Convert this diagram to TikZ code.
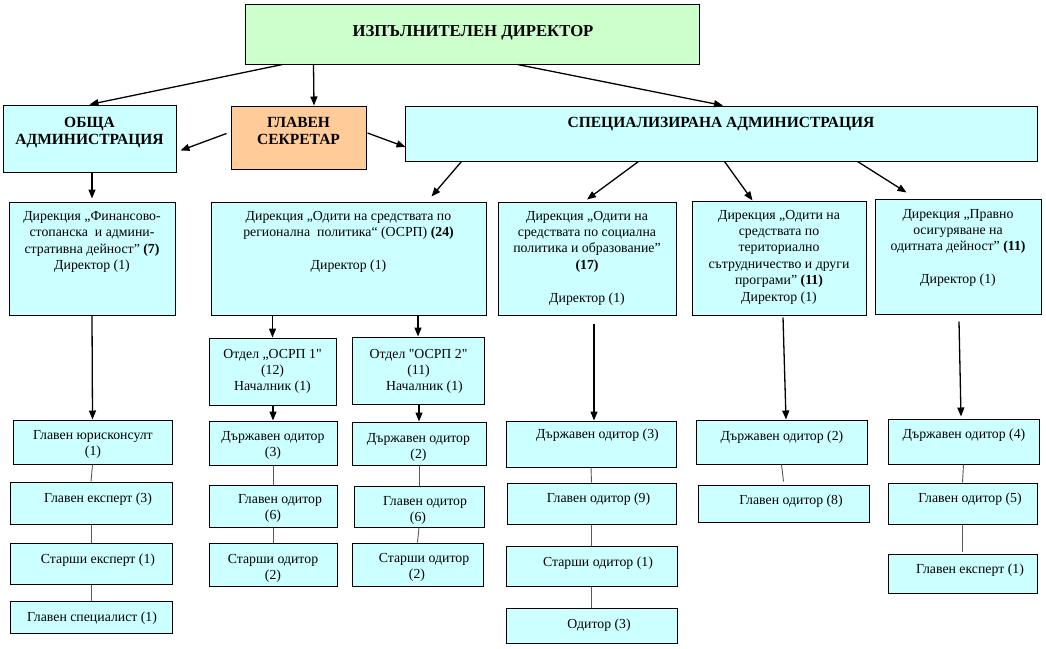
\documentclass[tikz,border=0pt]{standalone}
\usepackage{fontspec}
\setmainfont{Liberation Serif}[Ligatures=TeXOff]
\usetikzlibrary{arrows.meta,fit,calc}
\definecolor{cbox}{HTML}{CCFFFF}
\definecolor{gbox}{HTML}{CCFFCC}
\definecolor{obox}{HTML}{FFCC99}
\tikzset{
  box/.style={draw=black, line width=1pt, fill=cbox, inner sep=0pt},
  gbx/.style={box, fill=gbox},
  obx/.style={box, fill=obox},
  txt/.style={font=\fontsize{13.8}{16.4}\selectfont, inner sep=0pt},
  ttl/.style={font=\bfseries\fontsize{15.5}{17.5}\selectfont, inner sep=0pt},
  arr/.style={-{Triangle[length=9pt,width=7pt]}, line width=1.3pt},
  lnk/.style={draw=black!65, line width=0.9pt},
}
\newcommand{\bx}[9]{\node[#2, fit={(#3,#4) (#5,#6)}] (#1) {};
  \node[txt, anchor=base] (#1-t) at (#7,#8) {\begin{tabular}[t]{@{}c@{}}#9\end{tabular}};}
\newcommand{\tbx}[9]{\node[#2, fit={(#3,#4) (#5,#6)}] (#1) {};
  \node[ttl, anchor=base] (#1-t) at (#7,#8) {\begin{tabular}[t]{@{}c@{}}#9\end{tabular}};}
\begin{document}
\begin{tikzpicture}[x=1pt,y=-1pt]
\useasboundingbox[fill=white] (0,0) rectangle (1046,648);

% top level
\node[gbx, fit={(245,4) (699,64)}] (exec) {};
\node[ttl, font=\bfseries\fontsize{16.7}{18}\selectfont, anchor=base] (exec-t) at (473,36) {ИЗПЪЛНИТЕЛЕН ДИРЕКТОР};
\tbx{obsta}{box}{3}{105}{176}{172}{89.5}{127}{ОБЩА\\АДМИНИСТРАЦИЯ}
\tbx{sekr}{obx}{231}{106}{366}{169}{298.5}{127}{ГЛАВЕН\\СЕКРЕТАР}
\tbx{spec}{box}{405}{106}{1037}{161}{721}{127}{СПЕЦИАЛИЗИРАНА АДМИНИСТРАЦИЯ}

% directorates
\bx{fin}{box}{9}{202}{175}{315}{92}{220.5}{Дирекция „Финансово-\\стопанска\ \ и админи-\\стративна дейност” \textbf{(7)}\\Директор (1)}
\bx{osrp}{box}{211}{202}{486}{315}{348.5}{220.5}{Дирекция „Одити на средствата по\\регионална\ \ политика“ (ОСРП) \textbf{(24)}\\[16.4pt]Директор (1)}
\bx{social}{box}{498}{202}{676}{315}{587}{220}{Дирекция „Одити на\\средствата по социална\\политика и образование”\\\textbf{(17)}\\[16.4pt]Директор (1)}
\bx{terr}{box}{692}{201}{866}{315}{779}{219}{Дирекция „Одити на\\средствата по\\териториално\\сътрудничество и други\\програми” \textbf{(11)}\\Директор (1)}
\bx{legal}{box}{875}{199}{1041}{314}{958}{218}{Дирекция „Правно\\осигуряване на\\одитната дейност” \textbf{(11)}\\[16.4pt]Директор (1)}

% departments
\bx{ot1}{box}{209}{338}{336}{405}{272.5}{358}{Отдел „ОСРП 1"\\(12)\\Началник (1)}
\bx{ot2}{box}{352}{337}{484}{404}{418.5}{358}{Отдел "ОСРП 2"\\(11)\\\hspace*{12pt}Началник (1)}

% left column
\bx{jur}{box}{13}{420}{172}{464}{93}{439}{Главен юрисконсулт\\(1)}
\bx{exp}{box}{10}{482}{172}{524}{98}{502}{Главен експерт (3)}
\bx{sen}{box}{10}{543}{172}{584}{98}{563}{Старши експерт (1)}
\bx{spc}{box}{10}{601}{172}{633}{92}{621}{Главен специалист (1)}

% OSRP 1
\bx{do1}{box}{209}{421}{337}{465}{273}{440}{Държавен одитор\\(3)}
\bx{go1}{box}{209}{485}{337}{527}{273}{503}{\hspace*{14pt}Главен одитор\\(6)}
\bx{so1}{box}{209}{543}{337}{586}{273}{563}{Старши одитор\\(2)}

% OSRP 2
\bx{do2}{box}{352}{422}{486}{465}{418.5}{442}{Държавен одитор\\(2)}
\bx{go2}{box}{354}{486}{484}{527}{418}{505}{\hspace*{14pt}Главен одитор\\(6)}
\bx{so2}{box}{352}{543}{483}{586}{417}{562}{\hspace*{14pt}Старши одитор\\(2)}

% social
\bx{sdo}{box}{506}{421}{676}{467}{597.5}{438}{Държавен одитор (3)}
\bx{sgo}{box}{507}{483}{676}{524}{598.5}{502}{Главен одитор (9)}
\bx{sso}{box}{506}{546}{677}{586}{598}{566}{Старши одитор (1)}
\bx{sod}{box}{506}{608}{677}{643}{599}{628}{Одитор (3)}

% territorial
\bx{tdo}{box}{696}{420}{867}{464}{782}{440}{Държавен одитор (2)}
\bx{tgo}{box}{698}{485}{869}{522}{791}{504}{Главен одитор (8)}

% legal
\bx{ldo}{box}{888}{419}{1039}{464}{964}{438}{Държавен одитор (4)}
\bx{lgo}{box}{888}{483}{1037}{524}{970}{502}{Главен одитор (5)}
\bx{lge}{box}{888}{554}{1037}{593}{970}{573}{Главен експерт (1)}

% arrows
\draw[arr] ([xshift=38pt]exec.south west) -- (obsta.north);
\draw[arr] ([xshift=69pt]exec.south west) -- ([xshift=15.5pt]sekr.north);
\draw[arr] ([xshift=273pt]exec.south west) -- ([xshift=2pt]spec.north);
\draw[arr] ([xshift=-4pt,yshift=4pt]sekr.west) -- ([xshift=4pt,yshift=-12pt]obsta.east);
\draw[arr] ([xshift=1pt,yshift=4.5pt]sekr.east) -- ([xshift=1pt,yshift=-13.5pt]spec.west);
\draw[arr] ([xshift=57pt]spec.south west) -- ([xshift=221pt,yshift=5pt]osrp.north west);
\draw[arr] ([xshift=234pt]spec.south west) -- ([yshift=2pt]social.north);
\draw[arr] ([xshift=320pt]spec.south west) -- ([xshift=61pt]terr.north west);
\draw[arr] ([xshift=453pt]spec.south west) -- ([xshift=32pt,yshift=6pt]legal.north west);
\draw[arr] ([xshift=2.5pt]obsta.south) -- ([yshift=3pt]fin.north);
\draw[arr] (fin.south) -- (jur.north);
\draw[arr] (osrp.south -| ot1.north) -- (ot1.north);
\draw[arr] (osrp.south -| ot2.north) -- (ot2.north);
\draw[arr] (ot1.south -| do1.north) -- (do1.north);
\draw[arr] (ot2.south -| do2.north) -- (do2.north);
\draw[arr] ([xshift=7pt,yshift=-8pt]social.south) -- ([xshift=3pt]sdo.north);
\draw[arr] ([xshift=4pt,yshift=-2pt]terr.south) -- ([xshift=4.5pt]tdo.north);
\draw[arr] ([xshift=1pt,yshift=-7pt]legal.south) -- ([xshift=-2.5pt,yshift=2pt]ldo.north);

% plain links
\draw[lnk] (jur.south) -- (exp.north);
\draw[lnk] (exp.south) -- (sen.north);
\draw[lnk] (sen.south) -- (spc.north);
\draw[lnk] (do1.south) -- (go1.north);
\draw[lnk] (go1.south) -- (so1.north);
\draw[lnk] (do2.south) -- (go2.north);
\draw[lnk] (go2.south) -- (so2.north);
\draw[lnk] (sdo.south) -- (sgo.north);
\draw[lnk] (sgo.south) -- (sso.north);
\draw[lnk] (sso.south) -- (sod.north);
\draw[lnk] (tdo.south) -- ([yshift=3pt]tgo.north);
\draw[lnk] (ldo.south) -- (lgo.north);
\draw[lnk] (lgo.south) -- ([yshift=2pt]lge.north);
\end{tikzpicture}
\end{document}
